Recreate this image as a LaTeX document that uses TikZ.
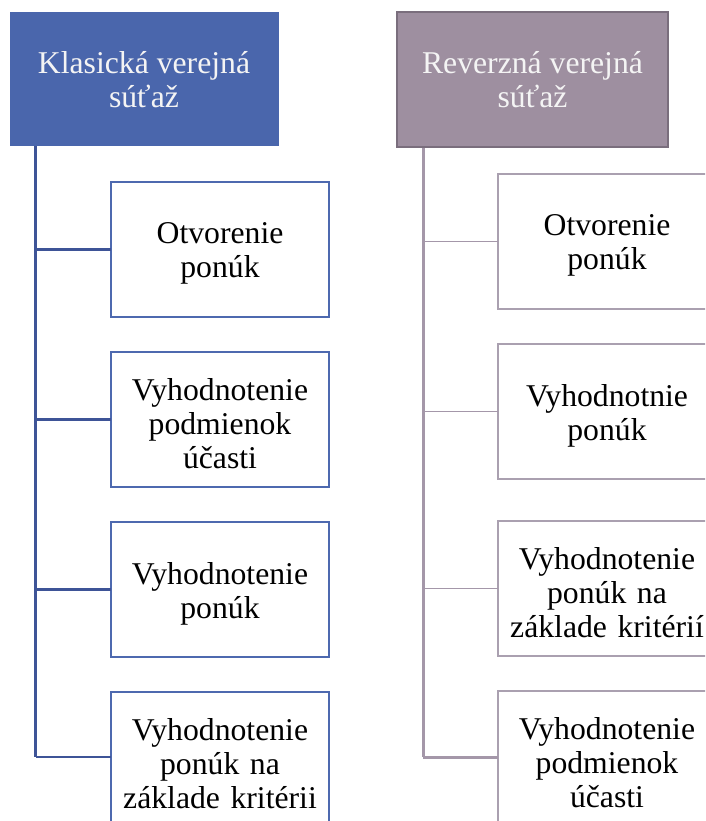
\documentclass[tikz,border=0pt]{standalone}
\usepackage{fontspec}
\setmainfont{Liberation Serif}
\definecolor{lhfill}{HTML}{4A66AC}
\definecolor{lbox}{HTML}{4D69AF}
\definecolor{lline}{HTML}{3E5497}
\definecolor{rhfill}{HTML}{9E8FA0}
\definecolor{rhborder}{HTML}{7A6E7D}
\definecolor{rbox}{HTML}{AAA0B0}
\definecolor{rline}{HTML}{A497A9}
\definecolor{htext}{HTML}{F4F4F4}
\tikzset{
  every node/.style={font=\fontsize{31.7}{34}\selectfont, align=center, inner sep=0pt, outer sep=0pt},
  lhead/.style={fill=lhfill, draw=lhfill, line width=1pt, text=htext, minimum width=268pt, minimum height=133pt, anchor=north west},
  rhead/.style={fill=rhfill, draw=rhborder, line width=2pt, text=htext, minimum width=271pt, minimum height=135pt, anchor=north west},
  childbase/.style={line width=2pt, fill=white, minimum width=218pt, minimum height=135pt, anchor=north west},
  lchild/.style={childbase, draw=lbox},
  rchild/.style={childbase, draw=rbox},
  ctext/.style={text width=216pt, yshift=-4pt},
  lconn/.style={draw=lline, line width=2.5pt},
  rconn/.style={draw=rline, line width=1pt},
  rspine/.style={draw=rline, line width=3pt},
}
\begin{document}
\begin{tikzpicture}[x=1pt,y=1pt]
\useasboundingbox (0,0) rectangle (705,-821);
\begin{scope}
\clip (0,0) rectangle (705,-821);
\coordinate (ltop) at (35.5,-146);
\coordinate (rtop) at (423,-148);
\draw[lconn] (ltop) -- (35.5,-757) coordinate (lbot);
\draw[rspine] (rtop) -- (423,-757) coordinate (rbot);

\node[lhead] (lh) at (10,-13) {Klasická verejná\\súťaž};
\node[rhead] (rh) at (397,-12) {Reverzná verejná\\súťaž};

\node[lchild] (l1) at (111,-182) {};
\node[lchild] (l2) at (111,-352) {};
\node[lchild] (l3) at (111,-522) {};
\node[lchild] (l4) at (111,-692) {};
\node[ctext] (l1t) at (l1.center) {Otvorenie\\ponúk};
\node[ctext] (l2t) at (l2.center) {Vyhodnotenie\\podmienok\\účasti};
\node[ctext] (l3t) at (l3.center) {Vyhodnotenie\\ponúk};
\node[ctext] (l4t) at (l4.center) {Vyhodnotenie\\ponúk na\\základe kritérii};

\node[rchild] (r1) at (498,-174) {};
\node[rchild] (r2) at (498,-344) {};
\node[rchild] (r3) at (498,-521) {};
\node[rchild] (r4) at (498,-691) {};
\node[ctext] (r1t) at (r1.center) {Otvorenie\\ponúk};
\node[ctext] (r2t) at (r2.center) {Vyhodnotnie\\ponúk};
\node[ctext] (r3t) at (r3.center) {Vyhodnotenie\\ponúk na\\základe kritérií};
\node[ctext] (r4t) at (r4.center) {Vyhodnotenie\\podmienok\\účasti};

\draw[lconn] (l1.west -| ltop) -- (l1.west);
\draw[lconn] (l2.west -| ltop) -- (l2.west);
\draw[lconn] (l3.west -| ltop) -- (l3.west);
\draw[lconn] (lbot) -- (lbot -| l4.west);

\draw[rconn] (r1.west -| rtop) -- (r1.west);
\draw[rconn] (r2.west -| rtop) -- (r2.west);
\draw[rconn] (r3.west -| rtop) -- (r3.west);
\draw[rspine] (rbot) -- (rbot -| r4.west);
\end{scope}
\end{tikzpicture}
\end{document}
